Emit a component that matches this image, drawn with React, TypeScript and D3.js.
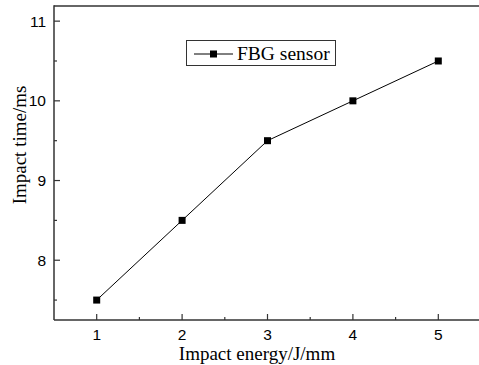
import React from "react";
import * as d3 from "d3";

const energies = [1, 2, 3, 4, 5];
const impactTimes = [7.5, 8.5, 9.5, 10.0, 10.5];
const xTicks = [1, 2, 3, 4, 5];
const yTicks = [8, 9, 10, 11];
const seriesName = "FBG sensor";

export default function App() {
  const W = 479, H = 365;
  const left = 54, top = 6, bottom = 320, right = 481;
  const x = d3.scaleLinear().domain([0.5, 5.5]).range([left, right]);
  const y = d3.scaleLinear().domain([7.25, 11.19]).range([bottom, top]);
  const line = d3.line<number>().x((_, i) => x(energies[i])).y((d) => y(d));
  const xMinor = d3.range(1.5, 5.5, 1);
  const yMinor = [7.5, 8.5, 9.5, 10.5];
  const axisColor = "#333";
  const serif = "'Liberation Serif', 'Times New Roman', serif";
  return (
    <svg width={W} height={H} style={{ position: "absolute", left: 0, top: 0, background: "#fff" }}>
      <g stroke={axisColor} strokeWidth={1.5} fill="none">
        <line x1={left} y1={top} x2={right} y2={top} />
        <line x1={left} y1={top - 0.75} x2={left} y2={bottom} />
        <line x1={left} y1={bottom} x2={right} y2={bottom} />
      </g>
      <g stroke={axisColor} strokeWidth={1.2}>
        {xTicks.map((t) => (
          <line key={"xt" + t} x1={x(t)} x2={x(t)} y1={bottom} y2={bottom - 6} />
        ))}
        {xMinor.map((t) => (
          <line key={"xm" + t} x1={x(t)} x2={x(t)} y1={bottom} y2={bottom - 3} />
        ))}
        {yTicks.map((t) => (
          <line key={"yt" + t} x1={left} x2={left + 6} y1={y(t)} y2={y(t)} />
        ))}
        {yMinor.map((t) => (
          <line key={"ym" + t} x1={left} x2={left + 3} y1={y(t)} y2={y(t)} />
        ))}
      </g>
      <g fontFamily="'Liberation Sans', Arial, sans-serif" fontSize={15.5} fill="#000">
        {xTicks.map((t) => (
          <text key={"xl" + t} x={x(t)} y={339.5} textAnchor="middle">{t}</text>
        ))}
        {yTicks.map((t) => (
          <text key={"yl" + t} x={46} y={y(t) + 5.5} textAnchor="end">{t}</text>
        ))}
      </g>
      <g fontFamily={serif} fontSize={19} fill="#000">
        <text x={257} y={359.5} textAnchor="middle">Impact energy/J/mm</text>
        <text transform={`translate(25.5,145) rotate(-90)`} textAnchor="middle">Impact time/ms</text>
      </g>
      <path d={line(impactTimes) || ""} fill="none" stroke="#000" strokeWidth={1} />
      {impactTimes.map((v, i) => (
        <rect key={"m" + i} x={x(energies[i]) - 3.5} y={y(v) - 3.5} width={7} height={7} fill="#000" />
      ))}
      <g>
        <rect x={186.5} y={40.5} width={149} height={25} fill="#fff" stroke="#333" strokeWidth={1} />
        <line x1={194} x2={233} y1={54} y2={54} stroke="#000" strokeWidth={1} />
        <rect x={210} y={50.5} width={7} height={7} fill="#000" />
        <text x={237} y={60} fontFamily={serif} fontSize={19.5} fill="#000">{seriesName}</text>
      </g>
    </svg>
  );
}
